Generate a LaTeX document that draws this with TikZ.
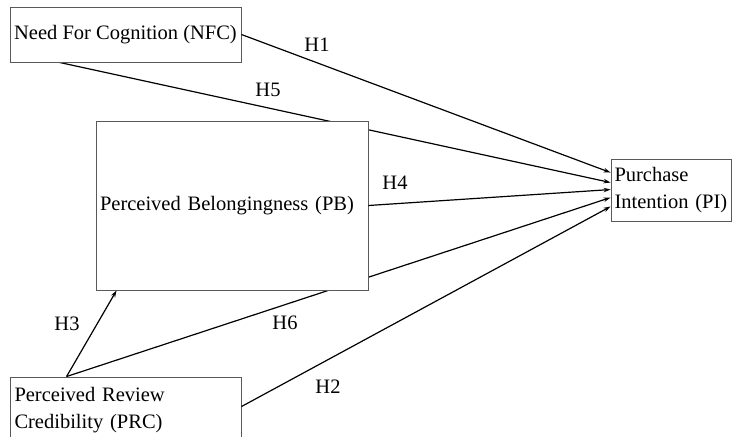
\documentclass[tikz,border=0pt]{standalone}
\usepackage{fontspec}
\setmainfont{Liberation Serif}
\usetikzlibrary{arrows.meta,backgrounds,calc}
\tikzset{
  box/.style={draw=black!65, line width=0.9pt, fill=white, inner sep=0pt, font=\fontsize{20.5}{27.5}\selectfont},
  conn/.style={line width=1.2pt, -{Stealth[length=7pt,width=4.5pt]}},
  hyp/.style={font=\fontsize{20.5}{24}\selectfont, inner sep=0pt}
}
\begin{document}
\begin{tikzpicture}[x=1pt,y=-1pt]
\useasboundingbox (0,0) rectangle (732,437);
\clip (0,0) rectangle (732,437);
% boxes
\node[box, minimum width=231pt, minimum height=55pt] (NFC) at (125.5,34.5) {Need For Cognition (NFC)};
\node[box, minimum width=272pt, minimum height=169pt, text width=264pt, align=left] (PB) at (232,205.5) {Perceived Belongingness (PB)};
\node[box, minimum width=120pt, minimum height=62pt, text width=113pt, align=left] (PI) at (671,190) {Purchase\\Intention (PI)};
\node[box, minimum width=231pt, minimum height=66pt, text width=222pt, align=left] (PRC) at (125.5,410) {Perceived Review\\Credibility (PRC)};
% anchors on boxes
\coordinate (nfcb) at ($(NFC.south west)+(50,0)$);
\coordinate (prct) at ($(PRC.north west)+(57,0)$);
\coordinate (prcr) at ($(PRC.north east)+(0,30)$);
\coordinate (pbb) at ($(PB.south west)+(21,0)$);
\coordinate (pi1) at ($(PI.north west)+(0,14)$);
\coordinate (pi2) at ($(PI.north west)+(0,24)$);
\coordinate (pi3) at ($(PI.north west)+(0,31)$);
\coordinate (pi4) at ($(PI.north west)+(0,39)$);
\coordinate (pi5) at ($(PI.north west)+(0,48)$);
% connectors behind PB
\begin{pgfonlayer}{background}
\draw[conn] (nfcb) -- (pi2);
\draw[conn] (prct) -- (pi4);
\end{pgfonlayer}
\draw[conn] (NFC.east) -- (pi1);
\draw[conn] (PB.east) -- (pi3);
\draw[conn] (prcr) -- (pi5);
\draw[conn] (prct) -- (pbb);
% labels
\node[hyp] (h1) at (317,45) {H1};
\node[hyp] (h5) at (268,90) {H5};
\node[hyp] (h4) at (395,183) {H4};
\node[hyp] (h3) at (67,324) {H3};
\node[hyp] (h6) at (285,323) {H6};
\node[hyp] (h2) at (328,387) {H2};
\end{tikzpicture}
\end{document}
